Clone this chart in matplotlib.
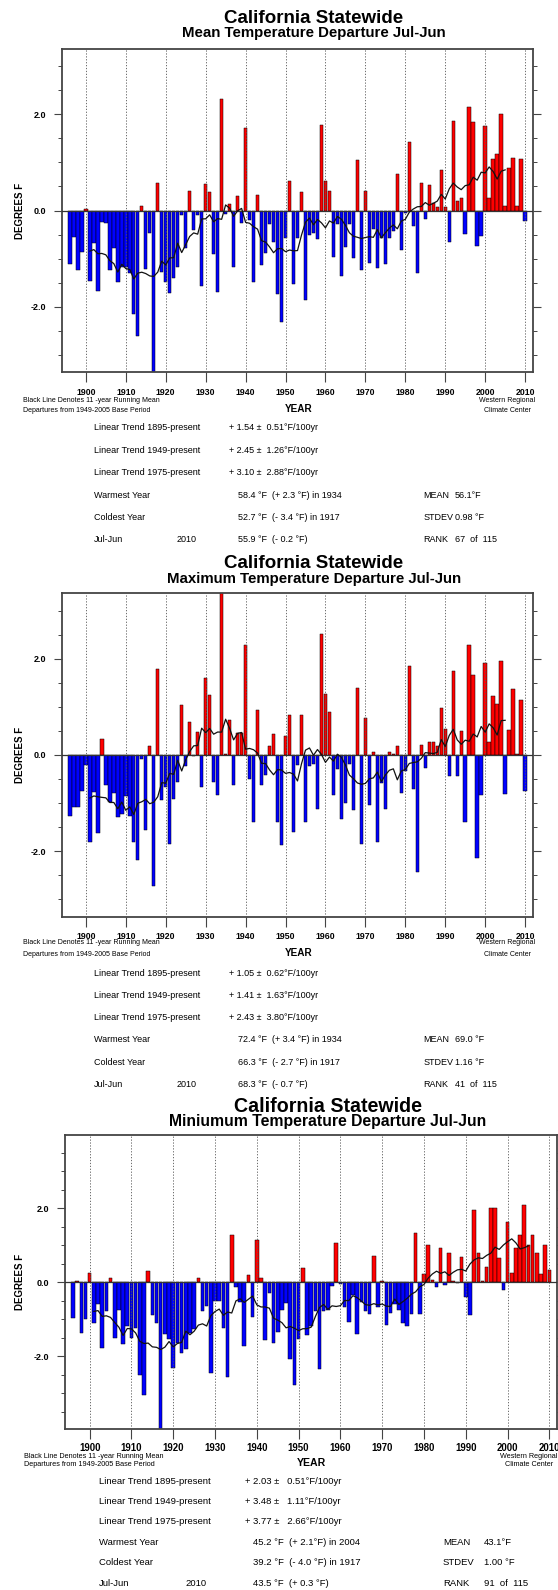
import numpy as np
import pandas as pd
import matplotlib
matplotlib.use("Agg")
import matplotlib.pyplot as plt
from matplotlib.ticker import MultipleLocator

plt.rcParams['font.family'] = ['Liberation Sans', 'DejaVu Sans']

W, H = 558, 1590  # output size in pixels

years = np.arange(1896, 2011)
decades = np.arange(1900, 2011, 10)

# departures (deg F) from 1949-2005 base period, Jul-Jun years
mean_dep = [
    -1.12, -0.54, -1.23, -0.87, 0.03, -1.46, -0.68, -1.68, -0.23, -0.26,   # 1896-1905
    -1.23, -0.77, -1.48, -1.17, -1.18, -1.30, -2.14, -2.61, 0.10, -1.21,   # 1906-1915
    -0.47, -3.40, 0.57, -1.27, -1.48, -1.72, -1.41, -1.17, -0.10, -0.77,   # 1916-1925
    0.40, -0.41, -0.10, -1.57, 0.55, 0.38, -0.91, -1.70, 2.31, -0.08,      # 1926-1935
    0.14, -1.18, 0.31, -0.26, 1.71, -0.19, -1.48, 0.33, -1.13, -0.88,      # 1936-1945
    -0.28, -0.65, -1.74, -2.32, -0.57, 0.61, -1.52, -0.57, 0.38, -1.86,    # 1946-1955
    -0.50, -0.46, -0.59, 1.78, 0.62, 0.40, -0.96, -0.28, -1.35, -0.75,     # 1956-1965
    -0.29, -0.99, 1.05, -1.23, 0.40, -1.08, -0.39, -1.20, -0.57, -1.11,    # 1966-1975
    -0.57, -0.43, 0.76, -0.82, -0.06, 1.43, -0.32, -1.29, 0.57, -0.17,     # 1976-1985
    0.52, 0.15, 0.08, 0.83, 0.07, -0.66, 1.85, 0.19, 0.25, -0.48,          # 1986-1995
    2.14, 1.83, -0.74, -0.53, 1.76, 0.26, 1.07, 1.17, 2.00, 0.10,          # 1996-2005
    0.88, 1.09, 0.10, 1.06, -0.22,                                         # 2006-2010
]
max_dep = [
    -1.26, -1.09, -1.09, -0.74, -0.20, -1.81, -0.76, -1.62, 0.33, -0.62,
    -0.98, -0.78, -1.28, -1.22, -0.85, -1.27, -1.80, -2.19, -0.09, -1.56,
    0.18, -2.73, 1.78, -0.94, -0.67, -1.85, -0.91, -0.56, 1.04, -0.23,
    0.68, -0.03, 0.48, -0.66, 1.60, 1.24, -0.56, -0.83, 3.40, 0.02,
    0.73, -0.63, 0.46, 0.46, 2.29, -0.50, -1.39, 0.94, -0.63, -0.42,
    0.19, 0.43, -1.40, -1.87, 0.40, 0.84, -1.60, -0.21, 0.84, -1.40,
    -0.22, -0.18, -1.13, 2.51, 1.26, 0.90, -0.83, -0.29, -1.32, -0.99,
    -0.18, -1.14, 1.39, -1.84, 0.76, -1.04, 0.07, -1.81, -0.59, -1.13,
    0.07, 0.03, 0.18, -0.78, -0.34, 1.85, -0.71, -2.44, 0.21, -0.26,
    0.26, 0.28, 0.18, 0.98, 0.53, -0.44, 1.74, -0.44, 0.49, -1.39,
    2.28, 1.67, -2.14, -0.83, 1.92, 0.28, 1.22, 1.07, 1.95, -0.81,
    0.51, 1.38, 0.02, 1.14, -0.75,
]
min_dep = [
    -0.98, 0.04, -1.37, -1.01, 0.25, -1.10, -0.59, -1.77, -0.77, 0.10,
    -1.50, -0.75, -1.68, -1.19, -1.50, -1.25, -2.51, -3.04, 0.30, -0.88,
    -1.11, -4.00, -1.40, -1.55, -2.31, -1.64, -1.91, -1.80, -1.37, -1.28,
    0.12, -0.79, -0.65, -2.47, -0.50, -0.50, -1.24, -2.57, 1.28, -0.14,
    -0.55, -1.73, 0.19, -0.95, 1.13, 0.12, -1.57, -0.28, -1.64, -1.34,
    -0.76, -0.56, -2.08, -2.78, -1.54, 0.39, -1.42, -1.19, -0.79, -2.34,
    -0.79, -0.74, -0.11, 1.05, -0.05, -0.66, -1.07, -0.35, -1.39, -0.54,
    -0.79, -0.85, 0.72, -0.66, 0.04, -1.15, -0.83, -0.60, -0.74, -1.10,
    -1.19, -0.86, 1.33, -0.87, 0.21, 1.01, 0.07, -0.14, 0.92, -0.07,
    0.78, 0.04, -0.02, 0.69, -0.41, -0.88, 1.96, 0.79, 0.02, 0.41,
    2.01, 2.01, 0.66, -0.22, 1.62, 0.24, 0.92, 1.28, 2.09, 1.01,
    1.27, 0.80, 0.22, 1.01, 0.34,
]

subtitles = [
    "Mean Temperature Departure Jul-Jun",
    "Maximum Temperature Departure Jul-Jun",
    "Miniumum Temperature Departure Jul-Jun",
]
trend_labels = ["Linear Trend 1895-present", "Linear Trend 1949-present",
                "Linear Trend 1975-present"]
row_labels = ["Warmest Year", "Coldest Year", "Jul-Jun"]
stat_labels = ["MEAN", "STDEV", "RANK"]
current_year = "2010"

mean_trends = ["+ 1.54 \u00b1  0.51\u00b0F/100yr", "+ 2.45 \u00b1  1.26\u00b0F/100yr",
               "+ 3.10 \u00b1  2.88\u00b0F/100yr"]
mean_rows = ["58.4 \u00b0F  (+ 2.3 \u00b0F) in 1934", "52.7 \u00b0F  (- 3.4 \u00b0F) in 1917",
             "55.9 \u00b0F  (- 0.2 \u00b0F)"]
mean_stats = ["56.1\u00b0F", "0.98 \u00b0F", "67  of  115"]

max_trends = ["+ 1.05 \u00b1  0.62\u00b0F/100yr", "+ 1.41 \u00b1  1.63\u00b0F/100yr",
              "+ 2.43 \u00b1  3.80\u00b0F/100yr"]
max_rows = ["72.4 \u00b0F  (+ 3.4 \u00b0F) in 1934", "66.3 \u00b0F  (- 2.7 \u00b0F) in 1917",
            "68.3 \u00b0F  (- 0.7 \u00b0F)"]
max_stats = ["69.0 \u00b0F", "1.16 \u00b0F", "41  of  115"]

min_trends = ["+ 2.03 \u00b1   0.51\u00b0F/100yr", "+ 3.48 \u00b1   1.11\u00b0F/100yr",
              "+ 3.77 \u00b1   2.66\u00b0F/100yr"]
min_rows = ["45.2 \u00b0F  (+ 2.1\u00b0F) in 2004", "39.2 \u00b0F  (- 4.0 \u00b0F) in 1917",
            "43.5 \u00b0F  (+ 0.3 \u00b0F)"]
min_stats = ["43.1\u00b0F", "1.00 \u00b0F", "91  of  115"]

fig = plt.figure(figsize=(W / 100, H / 100), dpi=100)


def ftext(x, y, s, **kw):
    # x, y in pixels from top-left
    fig.text(x / W, 1 - y / H, s, **kw)


def draw_panel(vals, sub, trends, rows, stats, box, ylim, title_x, title_y, sub_y,
               lab_pad, foot_y, foot_x, credit_x, year_xy, row_y, cols, fs=1.0,
               yr_fs=6.3):
    l, t, r, b = box
    ax = fig.add_axes([l / W, 1 - b / H, (r - l) / W, (b - t) / H])
    v = np.array(vals)
    colors = np.where(v >= 0, '#ff0000', '#0000ff')
    ax.bar(years, v, width=0.86, color=colors, edgecolor='black',
           linewidth=0.35, zorder=2)
    run = pd.Series(v, index=years).rolling(11, center=True).mean()
    ax.plot(run.index, run.values, color='#111111', lw=0.9, zorder=5)
    ax.axhline(0, color='#333333', lw=0.9, zorder=4)
    for d in decades:
        ax.axvline(d, color='#555555', lw=0.6, ls=(0, (1.5, 2.0)), zorder=3)

    ax.set_xlim(1894.1, 2011.9)
    ax.set_ylim(-ylim, ylim)
    ax.set_xticks(decades, [str(d) for d in decades], fontsize=yr_fs,
                  fontweight='bold')
    ax.set_yticks([-2, 0, 2], ['-2.0', '0.0', '2.0'], fontsize=6.5,
                  fontweight='bold')
    ax.yaxis.set_minor_locator(MultipleLocator(0.5))
    ax.tick_params(axis='x', direction='out', length=7.0, width=0.8,
                   color='#444444', pad=lab_pad, top=False)
    ax.tick_params(axis='y', which='major', direction='out', length=5.8,
                   width=0.8, color='#444444', pad=5.8, left=True, right=True)
    ax.tick_params(axis='y', which='minor', direction='out', length=2.9,
                   width=0.7, color='#444444', left=True, right=True)
    for sp in ax.spines.values():
        sp.set_color('#444444')
        sp.set_linewidth(1.3)

    ftext(title_x, title_y, "California Statewide", ha='center', va='baseline',
          fontsize=13.5 * fs, fontweight='bold')
    ftext(title_x, sub_y, sub, ha='center', va='baseline', fontsize=10.8 * fs,
          fontweight='bold')
    ftext(19.6, (t + b) / 2, "DEGREES F", rotation=90, ha='center', va='center',
          fontsize=7, fontweight='bold')

    ftext(foot_x, foot_y[0], "Black Line Denotes 11 -year Running Mean",
          ha='left', va='center', fontsize=5 * fs)
    ftext(foot_x, foot_y[1], "Departures from 1949-2005 Base Period",
          ha='left', va='center', fontsize=5 * fs)
    ftext(credit_x, foot_y[0], "Western Regional", ha='center', va='center',
          fontsize=5 * fs)
    ftext(credit_x, foot_y[1], "Climate Center", ha='center', va='center',
          fontsize=5 * fs)
    ftext(year_xy[0], year_xy[1], "YEAR", ha='center', va='center',
          fontsize=7.2 * fs, fontweight='bold')

    c_lab, c_yr, c_trend, c_val, c_stat, c_statv = cols
    kw = dict(va='baseline', ha='left', fontsize=6.5 * fs)
    for i in range(3):
        ftext(c_lab, row_y[i] + 3, trend_labels[i], **kw)
        ftext(c_trend, row_y[i] + 3, trends[i], **kw)
    for i in range(3):
        y = row_y[3 + i] + 3
        ftext(c_lab, y, row_labels[i], **kw)
        ftext(c_val, y, rows[i], **kw)
        ftext(c_stat, y, stat_labels[i], **kw)
        ftext(c_statv, y, stats[i], **kw)
    ftext(c_yr, row_y[5] + 3, current_year, **kw)


cols12 = (94.3, 176.9, 228.8, 237.7, 423.5, 455.0)

draw_panel(mean_dep, subtitles[0], mean_trends, mean_rows, mean_stats,
           box=(62.3, 49, 532.7, 372), ylim=3.35, title_x=314, title_y=22.7,
           sub_y=37.5, lab_pad=4.3, foot_y=(400, 410.7), foot_x=23,
           credit_x=507, year_xy=(298.6, 409),
           row_y=(427.3, 450, 471.7, 495, 516.7, 539.3), cols=cols12)

draw_panel(max_dep, subtitles[1], max_trends, max_rows, max_stats,
           box=(62.3, 593.3, 532.7, 916.7), ylim=3.36, title_x=314,
           title_y=568.3, sub_y=583.5, lab_pad=3.8, foot_y=(942.7, 955),
           foot_x=23, credit_x=507, year_xy=(298.6, 953.3),
           row_y=(973.3, 995, 1017.3, 1039.3, 1061.7, 1084), cols=cols12)

draw_panel(min_dep, subtitles[2], min_trends, min_rows, min_stats,
           box=(65, 1135, 557.3, 1429.3), ylim=3.98, title_x=328,
           title_y=1111.7, sub_y=1126.3, lab_pad=2.8, foot_y=(1456, 1465),
           foot_x=23.8, credit_x=529, year_xy=(311.4, 1462.7),
           row_y=(1480.7, 1500.7, 1521, 1541.7, 1562.3, 1582.7),
           cols=(98.6, 185, 244.8, 253.4, 443, 484), fs=1.05, yr_fs=6.9)

fig.savefig("out.png", dpi=100)
